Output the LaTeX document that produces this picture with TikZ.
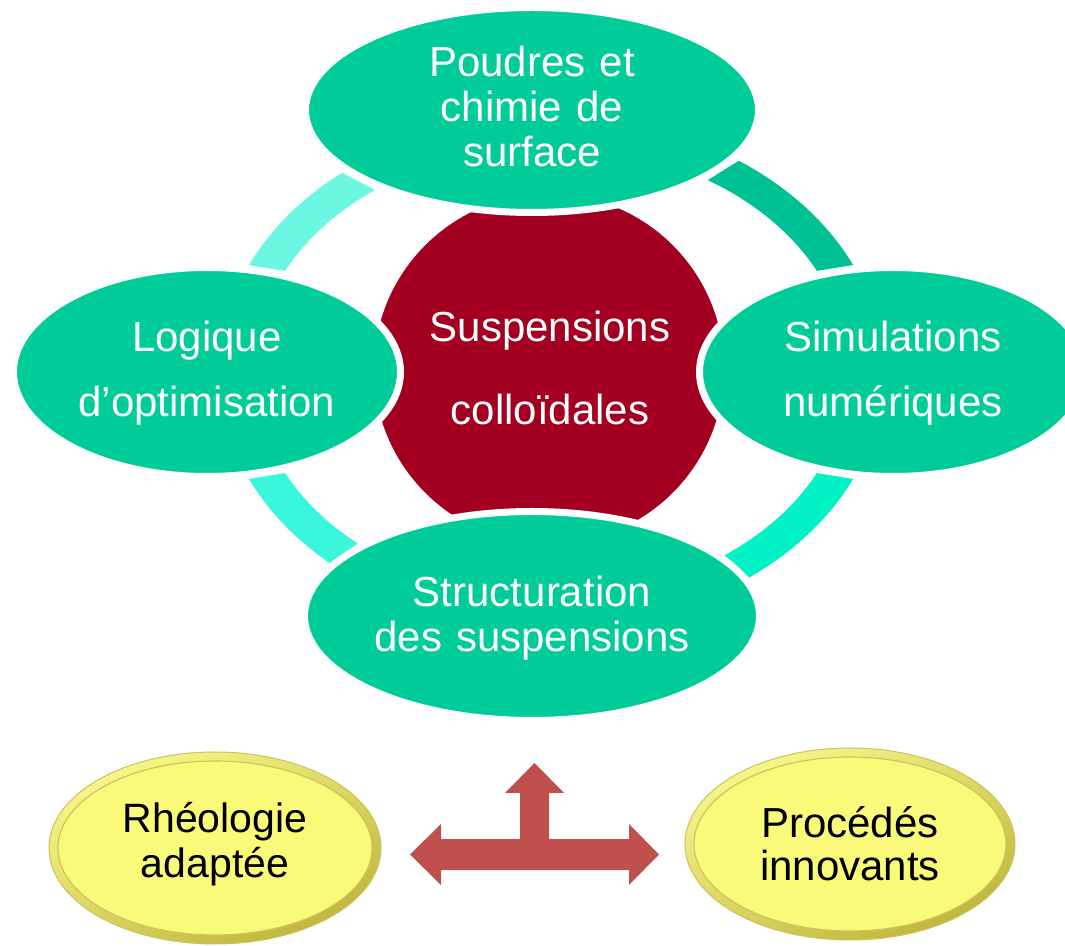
\documentclass[tikz,border=0pt]{standalone}
\usepackage{fontspec}
\setmainfont{Liberation Sans}
\usetikzlibrary{shapes.geometric,calc}

\definecolor{bubblegreen}{RGB}{0,204,153}
\definecolor{corered}{RGB}{163,0,33}
\definecolor{ringTL}{RGB}{108,247,226}
\definecolor{ringTR}{RGB}{0,193,148}
\definecolor{ringBR}{RGB}{0,242,197}
\definecolor{ringBL}{RGB}{58,246,218}
\definecolor{arrowred}{RGB}{192,80,77}
\definecolor{lemon}{RGB}{249,249,122}
\definecolor{lemonhi}{RGB}{247,247,140}
\definecolor{lemonlo}{RGB}{192,182,62}
\definecolor{lemonline}{RGB}{204,196,84}

% one coloured piece of the ring: outer start/end angle, inner start/end angle
\newcommand\ringpiece[5]{%
  \fill[#1] ($(ring)+(#2:332.5 and 256)$)
    arc[start angle=#2, end angle=#3, x radius=332.5, y radius=256]
    -- ($(ring)+(#4:297.4 and 225.8)$)
    arc[start angle=#4, end angle=#5, x radius=297.4, y radius=225.8]
    -- cycle;}

\begin{document}
\begin{tikzpicture}[x=1pt,y=1pt,
  bubblebox/.style={ellipse, inner sep=0pt, fill=bubblegreen, draw=white, line width=7pt},
  ontext/.style={text=white, align=center, anchor=base, inner sep=0pt},
  lemonrim/.style={ellipse, inner sep=0pt, draw=lemonline, line width=1pt,
    top color=lemonhi, bottom color=lemonlo, shading angle=25},
  lemonface/.style={ellipse, inner sep=0pt, fill=lemon, draw=lemonline, line width=1.1pt},
  lemontext/.style={text=black, align=center, anchor=base, inner sep=0pt}]
\useasboundingbox (0,0) rectangle (1065,945);

% ring segments between the topic bubbles
\coordinate (ring) at (551,573);
\ringpiece{ringTL}{128.9}{155.3}{153.4}{126.3}
\ringpiece{ringTR}{24.7}{55.6}{58.2}{26.6}
\ringpiece{ringBR}{-53.4}{-24.7}{-26.6}{-54.3}
\ringpiece{ringBL}{204.7}{228.3}{229.4}{206.6}

% central disc
\node[circle, fill=corered, inner sep=0pt, minimum size=350] (core) at (549,576) {};

% topic bubbles, each with a white halo
\node[bubblebox, minimum width=453, minimum height=205] (poudres) at (532,835) {};
\node[bubblebox, minimum width=387, minimum height=209] (logique) at (207,573) {};
\node[bubblebox, minimum width=387, minimum height=209] (simul) at (893,573) {};
\node[bubblebox, minimum width=455, minimum height=209] (struct) at (532,329) {};

% texts
\node[ontext, text width=440, font={\fontsize{42}{45}\selectfont}] (poudres-t)
  at ([yshift=33]poudres.center) {Poudres et\\chimie de\\surface};
\node[ontext, text width=360, font={\fontsize{42}{65}\selectfont}] (logique-t)
  at ([yshift=20]logique.center) {Logique\\d’optimisation};
\node[ontext, text width=360, font={\fontsize{42}{65}\selectfont}] (simul-t)
  at ([yshift=20]simul.center) {Simulations\\numériques};
\node[ontext, text width=330, font={\fontsize{42}{83}\selectfont}] (core-t)
  at ([xshift=1,yshift=27]core.center) {Suspensions\\colloïdales};
\node[ontext, text width=440, font={\fontsize{42}{45}\selectfont}] (struct-t)
  at ([yshift=9]struct.center) {Structuration\\des suspensions};

% outcome ovals
\node[lemonrim, minimum width=332, minimum height=192] (rheo) at (215,97) {};
\node[lemonface, minimum width=314, minimum height=174] (rheo-face) at (rheo.center) {};
\node[lemonrim, minimum width=330, minimum height=192] (proc) at (850,101) {};
\node[lemonface, minimum width=312, minimum height=174] (proc-face) at (proc.center) {};
\node[lemontext, text width=300, font={\fontsize{41}{45}\selectfont}] (rheo-t)
  at ([yshift=16]rheo.center) {Rhéologie\\adaptée};
\node[lemontext, text width=300, font={\fontsize{42}{42}\selectfont}] (proc-t)
  at ([yshift=6]proc.center) {Procédés\\innovants};

% three-way block arrow
\fill[arrowred] (410,90.5) -- (441,121) -- (441,106) -- (520,106) -- (520,152)
  -- (505,152) -- (534.5,182) -- (564,152) -- (549,152) -- (549,106)
  -- (629,106) -- (629,121) -- (659,90.5) -- (629,60) -- (629,75)
  -- (441,75) -- (441,60) -- cycle;
\end{tikzpicture}
\end{document}
